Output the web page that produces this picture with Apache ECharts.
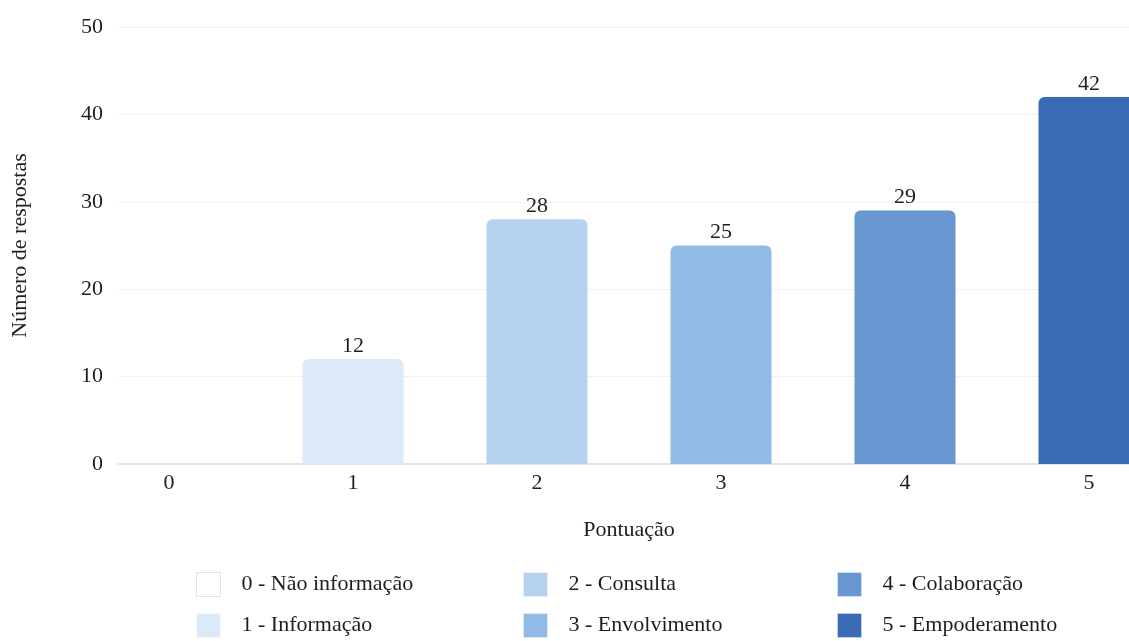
<!DOCTYPE html>
<html>
<head>
<meta charset="utf-8">
<script src="https://cdn.jsdelivr.net/npm/echarts@6/dist/echarts.min.js"></script>
<style>
  html, body { margin: 0; padding: 0; background: #fff; }
  #chart { width: 1129px; height: 641px; }
</style>
</head>
<body>
<div id="chart"></div>
<script>
// dados
const categories = ['0', '1', '2', '3', '4', '5']
const values = [0, 12, 28, 25, 29, 42]
const legendNames = [
  '0 - Não informação',
  '1 - Informação',
  '2 - Consulta',
  '3 - Envolvimento',
  '4 - Colaboração',
  '5 - Empoderamento'
]
const yTicks = [0, 10, 20, 30, 40, 50]

const palette = ['#ffffff', '#dbe9f8', '#b5d3f0', '#91bae5', '#6896d0', '#386bb4']
const font = 'Liberation Serif'
const fontSize = 22
const textColor = '#1e1e1e'

const chart = echarts.init(document.getElementById('chart'))

// uma série por pontuação, para a legenda ter uma cor por categoria
const series = categories.map((c, i) => ({
  name: legendNames[i],
  type: 'bar',
  barWidth: 101,
  barGap: '-100%',
  data: [[i, values[i]]],
  itemStyle: {
    color: palette[i],
    borderRadius: [6, 6, 0, 0]
  },
  label: {
    show: true,
    position: 'top',
    distance: 2,
    fontFamily: font,
    fontSize: fontSize,
    color: textColor,
    formatter: p => (p.value[1] === 0 ? '' : String(p.value[1]))
  }
}))

// legenda em 3 colunas de 2 itens
const legendCol = (names, left) => ({
  orient: 'vertical',
  left: left,
  top: 572,
  padding: 0,
  icon: 'rect',
  itemWidth: 24,
  itemHeight: 24,
  itemGap: 16,
  selectedMode: false,
  data: names.map(n => ({
    name: n,
    itemStyle: { borderColor: n.startsWith('0') ? '#e2e2e2' : 'rgba(255,255,255,0.35)', borderWidth: 1 }
  })),
  textStyle: {
    fontFamily: font,
    fontSize: fontSize,
    color: textColor,
    padding: [0, 0, 0, 16]
  }
})

const option = {
  animation: false,
  backgroundColor: '#fff',
  grid: { left: 118, right: -11, top: 27, bottom: 177, outerBoundsMode: 'none', containLabel: false },
  legend: [
    legendCol(legendNames.slice(0, 2), 196),
    legendCol(legendNames.slice(2, 4), 523),
    legendCol(legendNames.slice(4, 6), 837)
  ],
  xAxis: {
    type: 'value',
    min: -51 / 184,
    max: (1140 - 169) / 184,
    name: 'Pontuação',
    nameLocation: 'middle',
    nameGap: 55,
    nameTextStyle: { fontFamily: font, fontSize: fontSize, color: textColor },
    axisLine: { show: true, lineStyle: { color: '#e3e3e3', width: 2 } },
    axisTick: { show: false },
    splitLine: { show: false },
    axisLabel: {
      customValues: categories.map((c, i) => i),
      formatter: v => categories[v],
      margin: 8,
      fontFamily: font,
      fontSize: fontSize,
      color: textColor
    }
  },
  yAxis: {
    type: 'value',
    min: yTicks[0],
    max: yTicks[yTicks.length - 1],
    interval: 10,
    name: 'Número de respostas',
    nameLocation: 'middle',
    nameGap: 87,
    nameTextStyle: { fontFamily: font, fontSize: fontSize, color: textColor },
    axisLine: { show: false },
    axisTick: { show: false },
    splitLine: { lineStyle: { color: '#f1f1f1', width: 1 } },
    axisLabel: { margin: 15, fontFamily: font, fontSize: fontSize, color: textColor }
  },
  series: series
}

chart.setOption(option)
</script>
</body>
</html>
